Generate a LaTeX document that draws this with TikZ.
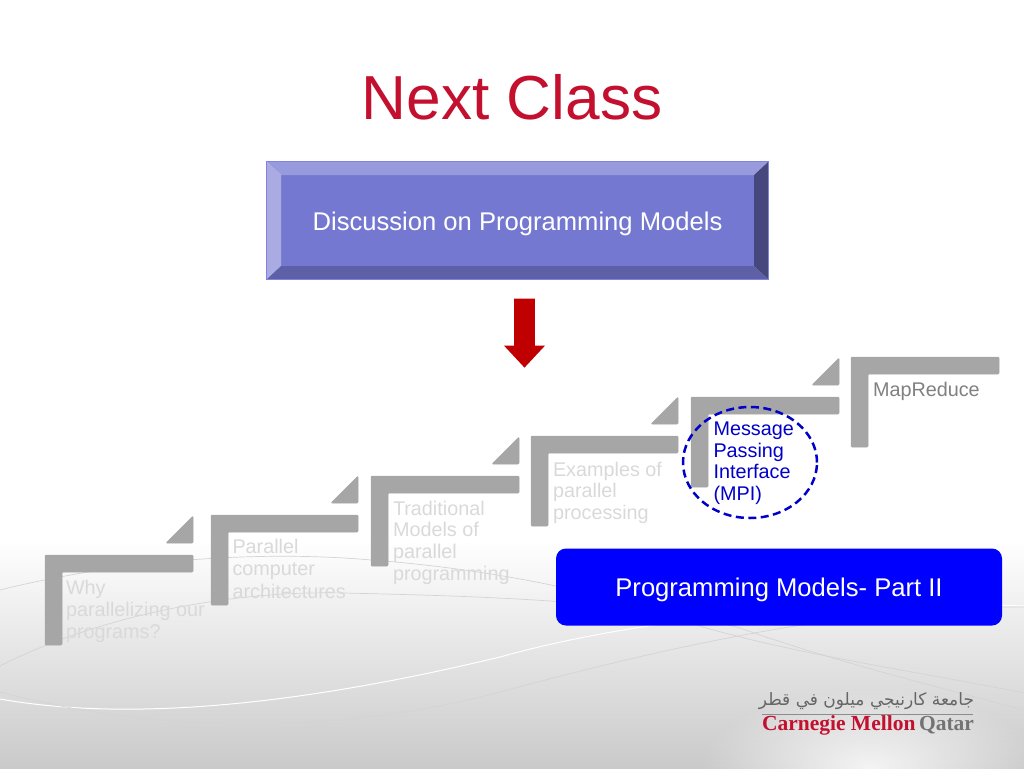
\documentclass[tikz,border=0pt]{standalone}
\usepackage{fontspec}
\setmainfont{Liberation Sans}
\newfontfamily\logofont{Liberation Serif}
\newfontfamily\arabicfont[Script=Arabic]{DejaVu Sans}
\TeXXeTstate=1
\usetikzlibrary{shapes,arrows,positioning,backgrounds,fadings}
\definecolor{titlered}{HTML}{C4102F}
\definecolor{boxface}{HTML}{7578D0}
\definecolor{boxedge}{HTML}{8083E0}
\definecolor{stepgrey}{HTML}{A6A6A6}
\definecolor{fadedtext}{HTML}{D9D9D9}
\definecolor{arrowred}{HTML}{C00000}
\definecolor{mpiblue}{HTML}{0000C8}
\tikzfading[name=glow, inner color=transparent!0, outer color=transparent!100]

\begin{document}
\begin{tikzpicture}[
    x=1pt, y=-1pt,
    every node/.style={inner sep=0pt, outer sep=0pt},
    elbow/.style={fill=stepgrey, draw=stepgrey, line width=0.5pt, rounded corners=1pt},
    wedge/.style={fill=stepgrey, draw=stepgrey, line width=0.5pt, rounded corners=1pt},
    steptext/.style={
        anchor=north west, align=left, text=fadedtext,
        font=\fontsize{19.8}{21.6}\selectfont
    },
    swoosh/.style={line width=0.7pt, draw=black!17}
]
\useasboundingbox (0,0) rectangle (1024,768);

% page
\shade[top color=white, bottom color=black!21] (0,540) rectangle (1024,770);
\begin{scope}
\clip (0,0) rectangle (1024,768);
\fill[white, path fading=glow, opacity=0.8] (870,768) ellipse (170 and 80);
\end{scope}
\draw[swoosh] (0,590) .. controls (120,560) and (260,550) .. (371,560)
    .. controls (480,568) and (600,590) .. (703,627)
    .. controls (800,655) and (920,672) .. (1024,693);
\draw[swoosh] (0,666) .. controls (90,620) and (220,590) .. (344,593)
    .. controls (470,596) and (640,600) .. (740,628)
    .. controls (830,660) and (930,685) .. (1024,710);
\draw[line width=1pt, draw=white] (0,699) .. controls (130,722) and (300,705) .. (500,657)
    .. controls (650,615) and (850,600) .. (1024,606);
\draw[swoosh] (0,692) .. controls (110,722) and (300,745) .. (500,692)
    .. controls (620,660) and (830,605) .. (1024,607);

\node (title) at (512,97) {\fontsize{62.2}{62}\selectfont\color{titlered}Next Class};

% top box
\fill[boxface] (281,175) rectangle (754,266);
\fill[boxface!75!white] (267,162) -- (768,162) -- (754,175) -- (281,175) -- cycle;
\fill[boxface!62!white] (267,162) -- (281,175) -- (281,266) -- (267,279) -- cycle;
\fill[boxface!80!black] (267,279) -- (281,266) -- (754,266) -- (768,279) -- cycle;
\fill[boxface!60!black] (768,162) -- (754,175) -- (754,266) -- (768,279) -- cycle;
\draw[boxedge, line width=1.5pt] (266.5,161.5) rectangle (768.5,279.5);
\node[text depth=0pt] (topic) at (517.5,221) {\fontsize{25.6}{26}\selectfont\color{white}Discussion on Programming Models};

\node[single arrow, fill=arrowred, rotate=-90, minimum height=69pt, inner ysep=10.25pt,
    single arrow head extend=10pt, single arrow head indent=0pt, single arrow tip angle=86] (downarrow) at (524.5,327.5) {};

% steps
\foreach \xa/\ya/\xb in {45/555/193, 211/515/358, 371/476/519, 531/436/678, 691/397/839, 851/357/999}{
    \fill[elbow] (\xa,\ya) -- (\xb,\ya) -- (\xb,\ya+17) -- (\xa+17,\ya+17) -- (\xa+17,\ya+90) -- (\xa,\ya+90) -- cycle;
}
\foreach \xb/\ya in {193/555, 358/515, 519/476, 678/436, 839/397}{
    \fill[wedge] (\xb,\ya-39) -- (\xb,\ya-12) -- (\xb-27,\ya-12) -- cycle;
}

\node[steptext] (why) at (66,580) {Why\\[0.4pt]parallelizing our\\[0.4pt]programs?};
\node[steptext] (arch) at (232.5,539) {Parallel\\[1pt]computer\\[0.6pt]architectures};
\node[steptext] (trad) at (393,501) {Traditional\\Models of\\parallel\\programming};
\node[steptext] (examples) at (553,462) {Examples of\\parallel\\processing};
\node[steptext, text=mpiblue] (mpi) at (713.5,422) {Message\\Passing\\Interface\\(MPI)};
\node[steptext, text=black!50] (mapreduce) at (873,382) {MapReduce};

\node[ellipse, draw=mpiblue, dash pattern=on 8pt off 4.5pt, line width=2.5pt, minimum width=134pt, minimum height=111pt] (mpiring) at (750,462.5) {};

\node[fill=blue, rounded corners=10pt, minimum width=446pt, minimum height=77pt,
    font=\fontsize{25.6}{26}\selectfont, text=white, text depth=0pt] (part) at (779,587) {Programming Models- Part II};

% logo
\node[anchor=east, font=\arabicfont\fontsize{17}{17}\selectfont, text=black!60] (arabic) at (974,701) {\beginR جامعة كارنيجي ميلون في قطر\endR};
\draw[black!45, line width=0.6pt] (762,714) -- (973,714);
\node[anchor=west, font=\logofont\bfseries\fontsize{21.5}{22}\selectfont] (cmq) at (762,725)
    {\textcolor{titlered}{Carnegie Mellon}\,\textcolor{black!55}{Qatar}};
\end{tikzpicture}
\end{document}
